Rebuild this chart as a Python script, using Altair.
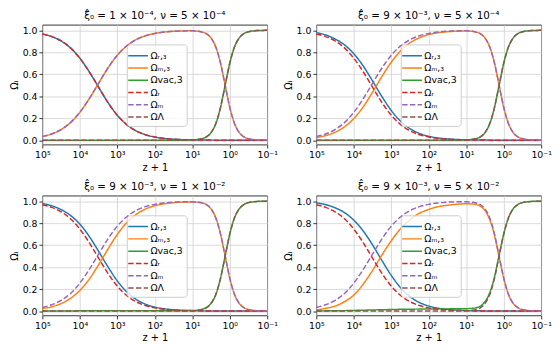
import altair as alt
import pandas as pd

# z + 1 sample positions (read along the log axis)
Z1 = [100000, 56234, 31623, 17783, 10000, 5623, 3162, 1778, 1000, 562.3, 316.2,
      177.8, 100, 56.23, 31.62, 23.71, 17.78, 13.34, 10, 7.499, 5.623, 4.217,
      3.162, 2.371, 1.778, 1.334, 1.0, 0.7499, 0.5623, 0.4217, 0.3162, 0.2371,
      0.1778, 0.1334, 0.1]

# reference (dashed) curves, identical in every panel
OMEGA_R = [0.967, 0.943, 0.903, 0.840, 0.746, 0.623, 0.482, 0.343, 0.227, 0.142, 0.085,
           0.050, 0.029, 0.016, 0.009, 0.007, 0.005, 0.004, 0.003, 0.002, 0.0016, 0.0012,
           0.0009, 0.0006, 0.0004, 0.0002, 0.0001, 0, 0, 0, 0, 0, 0, 0, 0]
OMEGA_M = [0.033, 0.057, 0.097, 0.160, 0.254, 0.377, 0.518, 0.657, 0.773, 0.858, 0.915,
           0.950, 0.971, 0.984, 0.991, 0.993, 0.994, 0.995, 0.995, 0.992, 0.985, 0.969,
           0.930, 0.850, 0.707, 0.504, 0.300, 0.153, 0.071, 0.031, 0.013, 0.006, 0.002,
           0.001, 0.0004]
OMEGA_L = [0, 0, 0, 0, 0, 0, 0, 0, 0, 0, 0, 0, 0, 0, 0,
           0.0002, 0.0004, 0.001, 0.002, 0.006, 0.013, 0.030, 0.069, 0.149, 0.293, 0.496,
           0.700, 0.847, 0.929, 0.969, 0.987, 0.994, 0.998, 0.999, 1.000]

# panel 1: xi0 = 1e-4, nu = 5e-4 (solid curves lie on the dashed ones)
P1_R3 = OMEGA_R
P1_M3 = OMEGA_M
P1_V3 = OMEGA_L

# panel 2: xi0 = 9e-3, nu = 5e-4
P2_R3 = [0.978, 0.958, 0.921, 0.868, 0.787, 0.676, 0.539, 0.397, 0.270, 0.172, 0.105,
         0.062, 0.036, 0.020, 0.012, 0.009, 0.0065, 0.005, 0.0037, 0.0028, 0.002, 0.0015,
         0.0011, 0.0007, 0.0005, 0.0003, 0.0001, 0, 0, 0, 0, 0, 0, 0, 0]
P2_M3 = [0.024, 0.042, 0.072, 0.121, 0.197, 0.303, 0.437, 0.579, 0.710, 0.813, 0.886,
         0.932, 0.961, 0.978, 0.987, 0.990, 0.993, 0.994, 0.995, 0.992, 0.985, 0.969,
         0.930, 0.850, 0.707, 0.504, 0.300, 0.153, 0.071, 0.031, 0.013, 0.006, 0.002,
         0.001, 0.0004]
P2_V3 = OMEGA_L

# panel 3: xi0 = 9e-3, nu = 1e-2
P3_R3 = [0.978, 0.958, 0.923, 0.870, 0.791, 0.680, 0.544, 0.402, 0.274, 0.175, 0.107,
         0.063, 0.036, 0.021, 0.012, 0.009, 0.0066, 0.005, 0.0038, 0.0028, 0.002, 0.0015,
         0.0011, 0.0007, 0.0005, 0.0003, 0.0001, 0, 0, 0, 0, 0, 0, 0, 0]
P3_M3 = [0.0225, 0.039, 0.068, 0.115, 0.187, 0.290, 0.421, 0.564, 0.697, 0.804, 0.879,
         0.928, 0.958, 0.976, 0.986, 0.989, 0.991, 0.993, 0.993, 0.991, 0.985, 0.969,
         0.930, 0.850, 0.707, 0.504, 0.300, 0.153, 0.071, 0.031, 0.013, 0.006, 0.002,
         0.001, 0.0004]
P3_V3 = [0.0, 0.0, 0.001, 0.001, 0.002, 0.002, 0.003, 0.003, 0.003, 0.003, 0.003,
         0.003, 0.003, 0.003, 0.003, 0.003, 0.003, 0.004, 0.005, 0.008, 0.015, 0.032,
         0.070, 0.149, 0.293, 0.496, 0.700, 0.847, 0.929, 0.969, 0.987, 0.994, 0.998,
         0.999, 1.000]

# panel 4: xi0 = 9e-3, nu = 5e-2
P4_R3 = [0.985, 0.968, 0.940, 0.896, 0.827, 0.729, 0.602, 0.460, 0.324, 0.212, 0.131,
         0.078, 0.046, 0.026, 0.015, 0.011, 0.0084, 0.0063, 0.0048, 0.0036, 0.0027, 0.002,
         0.0015, 0.001, 0.0006, 0.0004, 0.0002, 0.0001, 0, 0, 0, 0, 0, 0, 0]
P4_M3 = [0.010, 0.025, 0.045, 0.085, 0.145, 0.245, 0.370, 0.510, 0.640, 0.750, 0.830,
         0.890, 0.925, 0.950, 0.963, 0.968, 0.972, 0.975, 0.976, 0.975, 0.970, 0.955,
         0.915, 0.835, 0.695, 0.495, 0.300, 0.153, 0.071, 0.031, 0.013, 0.006, 0.002,
         0.001, 0.0004]
P4_V3 = [0.001, 0.002, 0.003, 0.004, 0.006, 0.008, 0.010, 0.012, 0.014, 0.016, 0.017,
         0.018, 0.019, 0.020, 0.020, 0.021, 0.021, 0.022, 0.022, 0.024, 0.029, 0.044,
         0.085, 0.165, 0.305, 0.505, 0.700, 0.847, 0.929, 0.969, 0.987, 0.994, 0.998,
         0.999, 1.000]

TITLES = [
    "ξ̂₀ = 1 × 10⁻⁴, ν = 5 × 10⁻⁴",
    "ξ̂₀ = 9 × 10⁻³, ν = 5 × 10⁻⁴",
    "ξ̂₀ = 9 × 10⁻³, ν = 1 × 10⁻²",
    "ξ̂₀ = 9 × 10⁻³, ν = 5 × 10⁻²",
]

SERIES = ["Ωᵣ,₃", "Ωₘ,₃", "Ωvac,3", "Ωᵣ", "Ωₘ", "ΩΛ"]
COLORS = ["#1f77b4", "#ff7f0e", "#2ca02c", "#d62728", "#9467bd", "#8c564b"]
DASHES = [[1, 0], [1, 0], [1, 0], [5.5, 2.4], [5.5, 2.4], [5.5, 2.4]]
X_TICKS = [100000, 10000, 1000, 100, 10, 1, 0.1]
Y_TICKS = [0.0, 0.2, 0.4, 0.6, 0.8, 1.0]

FONT = "DejaVu Sans"

X_LABELS = ("datum.value >= 50000 ? '10⁵' : datum.value >= 5000 ? '10⁴' : "
            "datum.value >= 500 ? '10³' : datum.value >= 50 ? '10²' : "
            "datum.value >= 5 ? '10¹' : datum.value >= 0.5 ? '10⁰' : '10⁻¹'")


def make_df(cols):
    rows = []
    for i, (name, vals) in enumerate(zip(SERIES, cols)):
        for x, v in zip(Z1, vals):
            rows.append({"z1": x, "omega": v, "series": name, "solid": i < 3})
    return pd.DataFrame(rows)


def panel(title, cols):
    df = make_df(cols)
    legend = alt.Legend(
        title=None, orient="none", legendX=86, legendY=20,
        symbolType="M-1.5,0H1.5", symbolSize=180, symbolStrokeWidth=1.5,
        labelFontSize=9.5, labelFont=FONT, labelColor="#000",
        rowPadding=0.5, labelOffset=5, padding=4,
        fillColor="rgba(255,255,255,0.8)", strokeColor="#cccccc", cornerRadius=3,
    )
    base = alt.Chart(df).encode(
        x=alt.X("z1:Q",
                scale=alt.Scale(type="log", domain=[0.1, 100000], reverse=True, nice=False),
                axis=alt.Axis(values=X_TICKS, labelExpr=X_LABELS, title="z + 1",
                              labelFlush=False, labelOverlap=False)),
        y=alt.Y("omega:Q",
                scale=alt.Scale(domain=[-0.04, 1.05], nice=False, zero=False),
                axis=alt.Axis(values=Y_TICKS, format=".1f", title="Ωᵢ")),
        color=alt.Color("series:N", scale=alt.Scale(domain=SERIES, range=COLORS), legend=legend),
        strokeDash=alt.StrokeDash("series:N", scale=alt.Scale(domain=SERIES, range=DASHES),
                                  legend=legend),
    )
    solid = base.transform_filter("datum.solid").mark_line(strokeWidth=1.5, interpolate="monotone")
    dashed = base.transform_filter("!datum.solid").mark_line(strokeWidth=1.5, interpolate="monotone")
    return alt.layer(solid, dashed).properties(
        width=229, height=122,
        title=alt.TitleParams(title, fontSize=10.5, font=FONT, fontWeight="normal",
                              offset=3, frame="group", anchor="middle", color="#000"),
    )


panels = [
    panel(TITLES[0], [P1_R3, P1_M3, P1_V3, OMEGA_R, OMEGA_M, OMEGA_L]),
    panel(TITLES[1], [P2_R3, P2_M3, P2_V3, OMEGA_R, OMEGA_M, OMEGA_L]),
    panel(TITLES[2], [P3_R3, P3_M3, P3_V3, OMEGA_R, OMEGA_M, OMEGA_L]),
    panel(TITLES[3], [P4_R3, P4_M3, P4_V3, OMEGA_R, OMEGA_M, OMEGA_L]),
]

row1 = alt.hconcat(panels[0], panels[1], spacing=4).resolve_scale(
    color="independent", strokeDash="independent")
row2 = alt.hconcat(panels[2], panels[3], spacing=4).resolve_scale(
    color="independent", strokeDash="independent")

chart = alt.vconcat(row1, row2, spacing=9).resolve_scale(
    color="independent", strokeDash="independent"
).properties(padding=0, background="white").configure_view(
    stroke="#000", strokeWidth=0.8
).configure_axis(
    domain=False, grid=True, gridColor="#d0d0d0", gridWidth=0.8,
    tickColor="#000", tickSize=3.5, tickWidth=0.8,
    labelFont=FONT, labelFontSize=9.5, labelColor="#000", labelPadding=2,
    titleFont=FONT, titleFontSize=10, titleFontWeight="normal", titleColor="#000",
    titlePadding=3,
)

chart.save("out.html", embed_options={"renderer": "svg", "actions": False})
